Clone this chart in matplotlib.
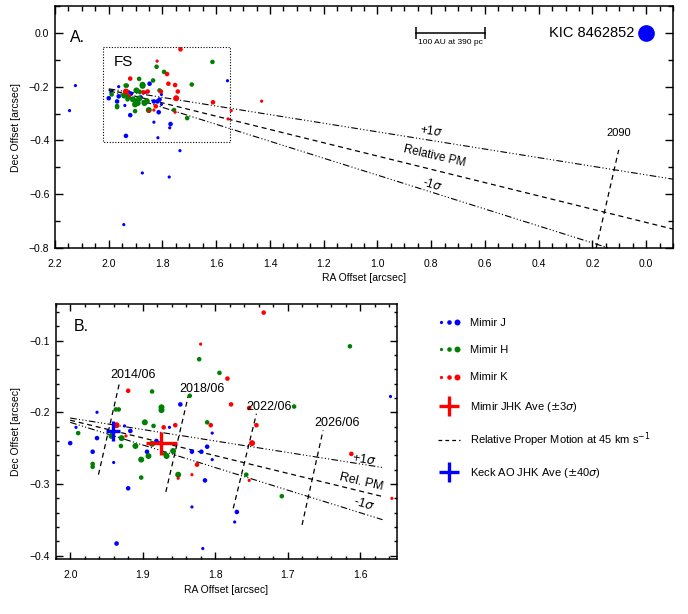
import numpy as np
import matplotlib
matplotlib.use('Agg')
import matplotlib.pyplot as plt
from matplotlib.lines import Line2D
from matplotlib.legend_handler import HandlerTuple
from matplotlib.ticker import MultipleLocator

plt.rcParams['font.family'] = ['Liberation Sans', 'DejaVu Sans']
plt.rcParams['mathtext.fontset'] = 'dejavusans'

# Mimir J positions (RA offset, Dec offset, size class 1-3)
j_ra = [2.000, 1.992, 1.963, 1.969, 1.963, 1.940, 1.936, 1.925, 1.920, 1.917,
        1.894, 1.881, 1.863, 1.848, 1.832, 1.832, 1.819, 1.817, 1.814, 1.811,
        1.804, 1.804, 1.770, 1.773, 1.558, 2.146, 2.124, 1.944, 1.875, 1.775, 1.735]
j_dec = [-0.243, -0.221, -0.200, -0.255, -0.236, -0.270, -0.383, -0.219, -0.306, -0.226,
         -0.255, -0.240, -0.221, -0.189, -0.255, -0.332, -0.255, -0.390, -0.295, -0.248,
         -0.229, -0.266, -0.339, -0.353, -0.178, -0.289, -0.196, -0.713, -0.521, -0.536, -0.438]
j_size = [2, 1, 1, 2, 2, 1, 2, 1, 2, 2,
          2, 2, 1, 2, 2, 1, 2, 1, 2, 2,
          1, 1, 2, 1, 1, 1, 1, 1, 1, 1, 1]

# Mimir H positions
h_ra = [1.989, 1.969, 1.969, 1.943, 1.937, 1.933, 1.929, 1.930, 1.910, 1.902,
        1.902, 1.897, 1.892, 1.887, 1.885, 1.887, 1.874, 1.874, 1.869, 1.867,
        1.858, 1.851, 1.835, 1.822, 1.811, 1.794, 1.757, 1.708, 1.691, 1.614]
h_dec = [-0.229, -0.272, -0.276, -0.233, -0.196, -0.196, -0.236, -0.247, -0.247, -0.266,
         -0.291, -0.214, -0.261, -0.171, -0.219, -0.244, -0.193, -0.197, -0.258, -0.261,
         -0.254, -0.287, -0.177, -0.126, -0.214, -0.145, -0.287, -0.317, -0.192, -0.108]
h_size = [2, 2, 2, 3, 2, 2, 3, 2, 3, 3,
          2, 3, 3, 2, 2, 3, 3, 3, 2, 3,
          3, 3, 2, 2, 2, 2, 2, 2, 2, 2]

# Mimir K positions
k_ra = [1.936, 1.920, 1.923, 1.871, 1.855, 1.851, 1.832, 1.825, 1.820, 1.806,
        1.783, 1.778, 1.753, 1.753, 1.749, 1.743, 1.733, 1.612, 1.556, 1.544, 1.431]
k_dec = [-0.218, -0.170, -0.233, -0.221, -0.218, -0.292, -0.287, -0.273, -0.105, -0.218,
         -0.153, -0.189, -0.194, -0.295, -0.243, -0.218, -0.061, -0.258, -0.320, -0.289, -0.254]
k_size = [3, 2, 1, 2, 2, 1, 1, 2, 1, 2,
          2, 2, 2, 1, 3, 2, 2, 2, 1, 1, 1]

# averages: center and error half-widths
mimir_ave = dict(ra=1.874, dec=-0.2435, ra_err=0.0214, dec_err=0.0155)
keck_ave = dict(ra=1.9407, dec=-0.2258, ra_err=0.0097, dec_err=0.0137)

# relative proper motion tracks (start, end)
pm_ra_a = [2.0, -0.1]
pm_ra_b = [2.0, 1.569]
pm_start = {'plus': -0.208, 'rel': -0.211, 'minus': -0.214}
pm_slope = {'plus': 0.160, 'rel': 0.247, 'minus': 0.315}

# epoch markers in panel B
epochs = ['2014/06', '2018/06', '2022/06', '2026/06']
epoch_ra0 = [1.961, 1.868, 1.775, 1.680]
epoch_dec0 = [-0.287, -0.311, -0.334, -0.357]
epoch_ra1 = [1.932, 1.837, 1.743, 1.651]
epoch_dec1 = [-0.159, -0.177, -0.202, -0.225]
epoch_label_ra = [1.913, 1.818, 1.726, 1.632]
epoch_label_dec = [-0.148, -0.168, -0.192, -0.215]

# 2090 epoch marker in panel A
e2090_ra = [0.186, 0.102]
e2090_dec = [-0.800, -0.435]

scale_bar_ra = [0.855, 0.598]
fs_box_ra = [2.020, 1.547]
fs_box_dec = [-0.053, -0.404]

size_pt = {1: 2.3, 2: 3.3, 3: 4.3}
dash3 = (0, (6, 2, 1, 2, 1, 2, 1, 2))


def pm_dec(key, ra):
    return [pm_start[key] + pm_slope[key] * (r - 2.0) for r in ra]


def style_axes(ax, major_x, minor_x, major_y, minor_y, maj_len, min_len):
    ax.xaxis.set_major_locator(MultipleLocator(major_x))
    ax.xaxis.set_minor_locator(MultipleLocator(minor_x))
    ax.yaxis.set_major_locator(MultipleLocator(major_y))
    ax.yaxis.set_minor_locator(MultipleLocator(minor_y))
    ax.tick_params(which='both', direction='in', top=True, right=True, labelsize=7.5, width=1)
    ax.tick_params(which='major', length=maj_len)
    ax.tick_params(which='minor', length=min_len)
    ax.tick_params(axis='x', pad=8)
    ax.tick_params(axis='y', pad=4)
    for s in ax.spines.values():
        s.set_linewidth(1.1)


def plot_points(ax):
    for ra, dec, size, col in [(j_ra, j_dec, j_size, 'blue'),
                               (h_ra, h_dec, h_size, 'green'),
                               (k_ra, k_dec, k_size, 'red')]:
        s = [size_pt[v] ** 2 for v in size]
        ax.scatter(ra, dec, s=s, color=col, edgecolors='none', zorder=3)


fig = plt.figure(figsize=(6.88, 6.14), dpi=100)

# ---- Panel A
axA = fig.add_axes([55 / 688, 1 - 248 / 614, 618 / 688, 242 / 614])
plot_points(axA)
axA.plot(pm_ra_a, pm_dec('plus', pm_ra_a), color='black', lw=0.8, ls=dash3, zorder=2)
axA.plot(pm_ra_a, pm_dec('rel', pm_ra_a), color='black', lw=0.9, ls=(0, (4, 3)), zorder=2)
axA.plot(pm_ra_a, pm_dec('minus', pm_ra_a), color='black', lw=0.8, ls=dash3, zorder=2)
axA.plot(e2090_ra, e2090_dec, color='black', lw=0.9, ls=(0, (4, 3)))
axA.text(0.103, -0.372, '2090', fontsize=8, ha='center', va='center')
axA.text(0.800, -0.367, r'+1$\sigma$', fontsize=8.5, ha='center', va='center', rotation=-8)
axA.text(0.787, -0.460, 'Relative PM', fontsize=8.5, ha='center', va='center', rotation=-13)
axA.text(0.795, -0.565, r'-1$\sigma$', fontsize=8.5, ha='center', va='center', rotation=-17)
axA.plot([fs_box_ra[0], fs_box_ra[1], fs_box_ra[1], fs_box_ra[0], fs_box_ra[0]],
         [fs_box_dec[0], fs_box_dec[0], fs_box_dec[1], fs_box_dec[1], fs_box_dec[0]],
         color='black', lw=0.8, ls=(0, (1, 1.5)))
axA.text(1.947, -0.107, 'FS', fontsize=11, ha='center', va='center')
axA.text(2.118, -0.019, 'A.', fontsize=11.5, ha='center', va='center')
axA.plot(scale_bar_ra, [0.0, 0.0], color='black', lw=1.1, marker='|', markersize=9, mew=1.1)
axA.text(np.mean(scale_bar_ra), -0.037, '100 AU at 390 pc', fontsize=6, ha='center', va='center')
axA.plot([0.0], [0.0], 'o', color='blue', markersize=11, zorder=4)
axA.text(0.042, 0.0, 'KIC 8462852', fontsize=10.5, ha='right', va='center')
axA.set_xlim(2.2, -0.1)
axA.set_ylim(-0.8, 0.1)
style_axes(axA, 0.2, 0.05, 0.2, 0.1, 6, 3.5)
axA.set_xlabel('RA Offset [arcsec]', fontsize=7.5, labelpad=3)
axA.set_ylabel('Dec Offset [arcsec]', fontsize=7.5, labelpad=6)

# ---- Panel B
axB = fig.add_axes([55.7 / 688, 1 - 559.3 / 614, 341.3 / 688, 255.3 / 614])
plot_points(axB)
axB.plot(pm_ra_b, pm_dec('plus', pm_ra_b), color='black', lw=0.8, ls=dash3, zorder=2)
axB.plot(pm_ra_b, pm_dec('rel', pm_ra_b), color='black', lw=0.9, ls=(0, (4, 3)), zorder=2)
axB.plot(pm_ra_b, pm_dec('minus', pm_ra_b), color='black', lw=0.8, ls=dash3, zorder=2)
for i, lab in enumerate(epochs):
    axB.plot([epoch_ra0[i], epoch_ra1[i]], [epoch_dec0[i], epoch_dec1[i]],
             color='black', lw=0.9, ls=(0, (4, 3)))
    axB.text(epoch_label_ra[i], epoch_label_dec[i], lab, fontsize=9, ha='center', va='center')
axB.errorbar(mimir_ave['ra'], mimir_ave['dec'], xerr=mimir_ave['ra_err'], yerr=mimir_ave['dec_err'],
             fmt='none', ecolor='red', elinewidth=2.4, capsize=0, zorder=5)
axB.errorbar(keck_ave['ra'], keck_ave['dec'], xerr=keck_ave['ra_err'], yerr=keck_ave['dec_err'],
             fmt='none', ecolor='blue', elinewidth=2.4, capsize=0, zorder=5)
axB.text(1.595, -0.2665, r'+1$\sigma$', fontsize=9, ha='center', va='center', rotation=-9)
axB.text(1.598, -0.297, 'Rel. PM', fontsize=9, ha='center', va='center', rotation=-13)
axB.text(1.595, -0.327, r'-1$\sigma$', fontsize=9, ha='center', va='center', rotation=-17)
axB.text(1.985, -0.080, 'B.', fontsize=11.5, ha='center', va='center')
axB.set_xlim(2.02, 1.549)
axB.set_ylim(-0.405, -0.049)
style_axes(axB, 0.1, 0.02, 0.1, 0.02, 5, 2.5)
axB.set_xlabel('RA Offset [arcsec]', fontsize=7.5, labelpad=3)
axB.set_ylabel('Dec Offset [arcsec]', fontsize=7.5, labelpad=6)

# ---- Legend
def dots(col):
    return tuple(Line2D([], [], ls='none', marker='o', color=col, mec='none', markersize=size_pt[k])
                 for k in (1, 2, 3))

handles = [dots('blue'), dots('green'), dots('red'),
           Line2D([], [], ls='none', marker='+', color='red', markersize=14.5, mew=2.4),
           Line2D([], [], color='black', lw=0.9, ls=(0, (3, 2.5)))]
labels = ['Mimir J', 'Mimir H', 'Mimir K', r'Mimir JHK Ave ($\pm$3$\sigma$)',
          r'Relative Proper Motion at 45 km s$^{-1}$']
leg1 = fig.legend(handles, labels, loc='upper left', bbox_to_anchor=(438 / 688, 1 - 318 / 614),
                  frameon=False, fontsize=8, handlelength=2.0, handletextpad=0.9,
                  labelspacing=1.55, borderpad=0, borderaxespad=0,
                  handler_map={tuple: HandlerTuple(ndivide=None, pad=0.1)})
leg2 = fig.legend([Line2D([], [], ls='none', marker='+', color='blue', markersize=14.5, mew=2.4)],
                  [r'Keck AO JHK Ave ($\pm$40$\sigma$)'], loc='upper left',
                  bbox_to_anchor=(438 / 688, 1 - 466 / 614), frameon=False, fontsize=8,
                  handlelength=2.0, handletextpad=0.9, borderpad=0, borderaxespad=0)

fig.savefig('out.png', dpi=100)
